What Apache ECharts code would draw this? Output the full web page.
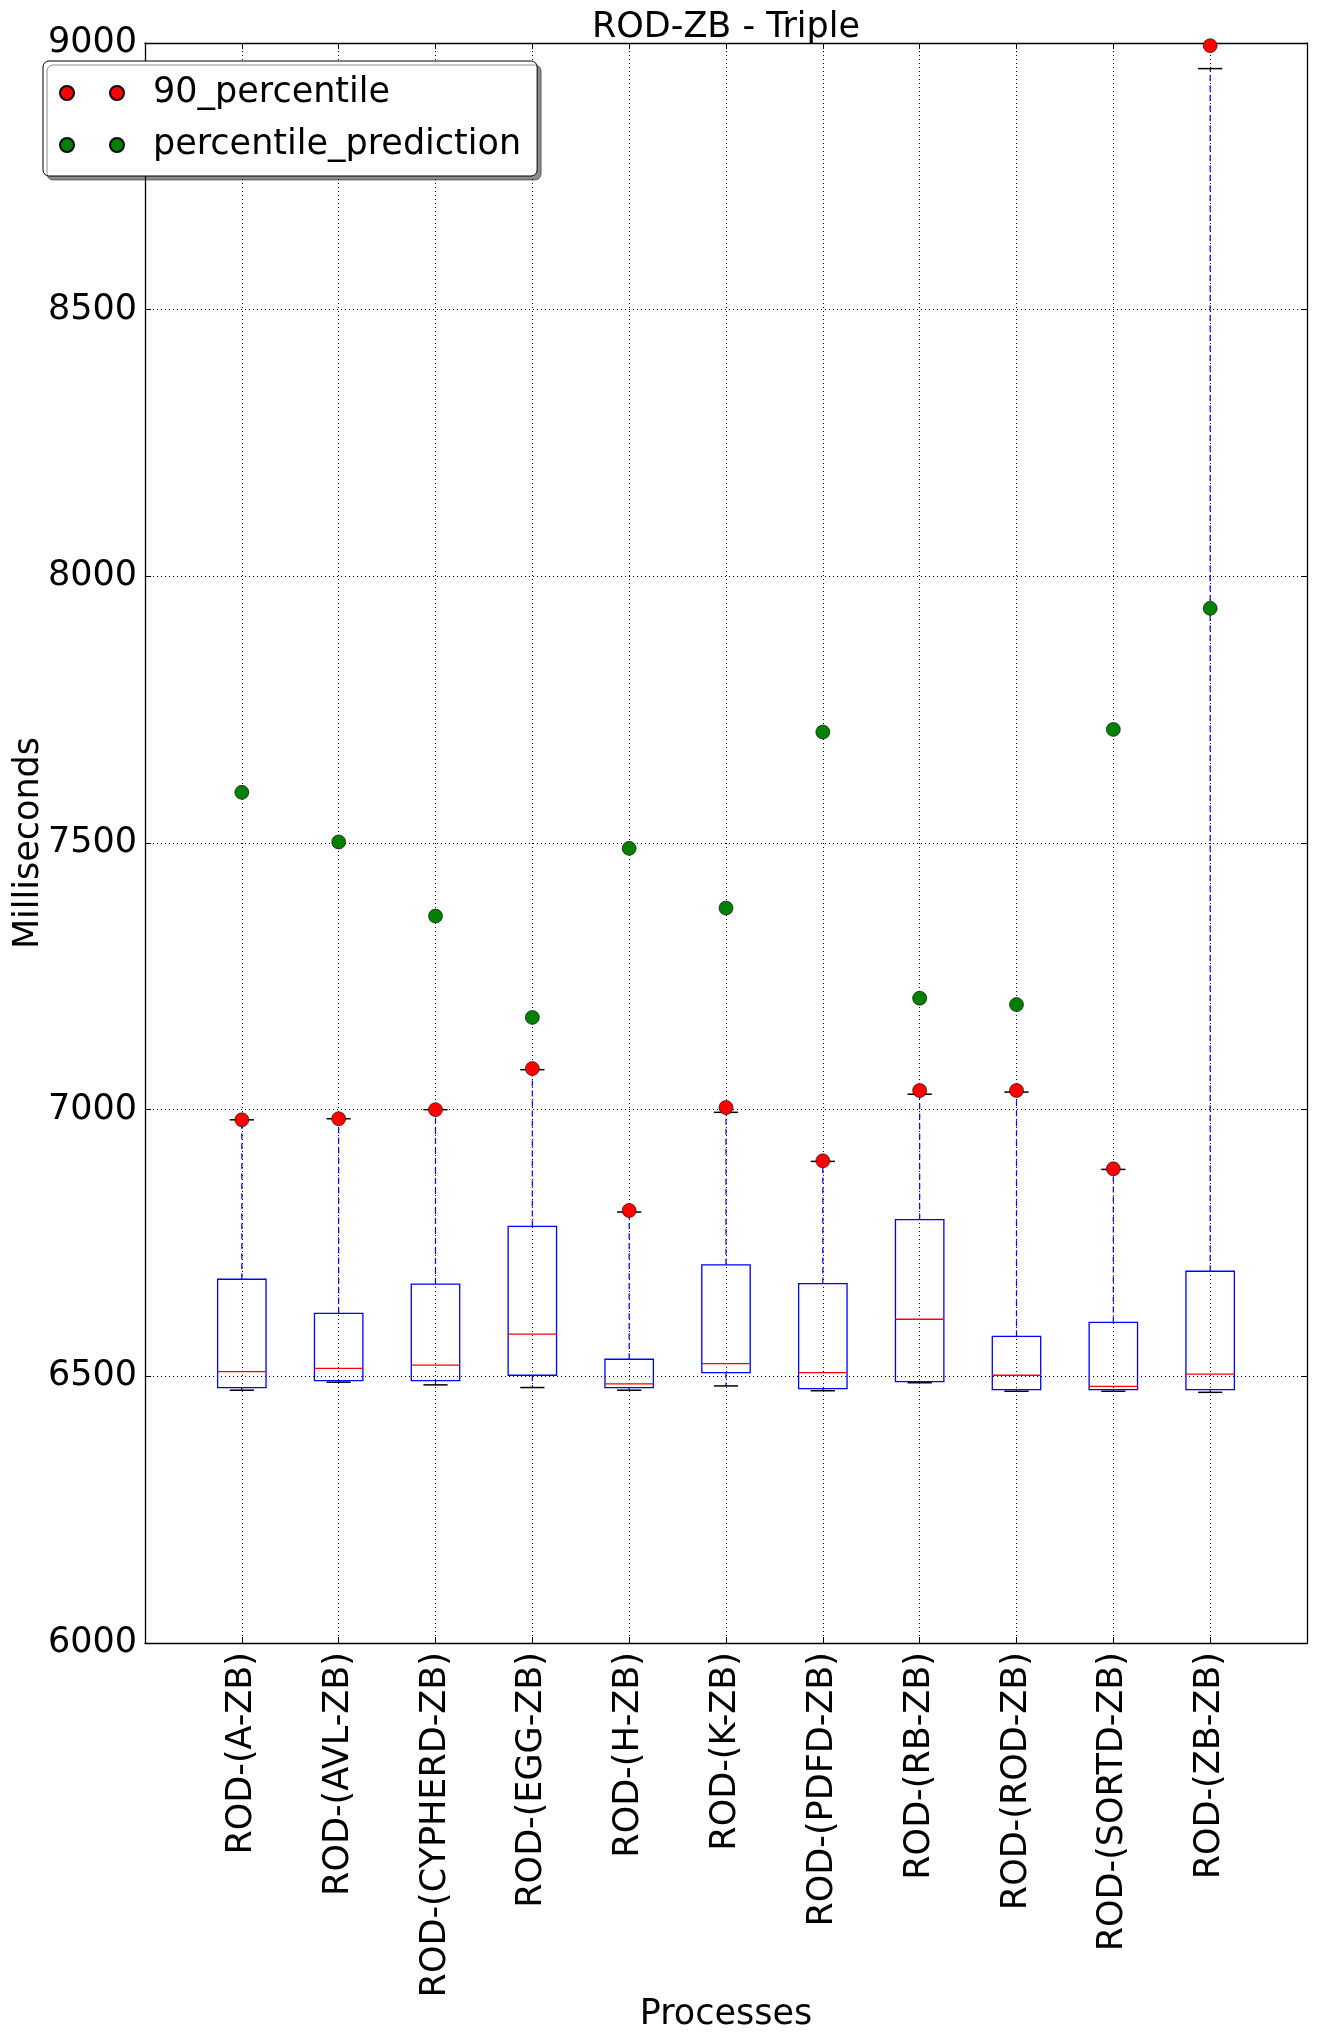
<!DOCTYPE html>
<html>
<head>
<meta charset="utf-8">
<script src="https://cdn.jsdelivr.net/npm/echarts@6/dist/echarts.min.js"></script>
<style>
html,body{margin:0;padding:0;background:#fff;}
#chart{width:1317px;height:2043px;}
</style>
</head>
<body>
<div id="chart"></div>
<script>
var categories = ['ROD-(A-ZB)','ROD-(AVL-ZB)','ROD-(CYPHERD-ZB)','ROD-(EGG-ZB)','ROD-(H-ZB)','ROD-(K-ZB)','ROD-(PDFD-ZB)','ROD-(RB-ZB)','ROD-(ROD-ZB)','ROD-(SORTD-ZB)','ROD-(ZB-ZB)'];
var whiskerLow  = [6474, 6489, 6484, 6479, 6474, 6482, 6473, 6488, 6472, 6472, 6470];
var q1          = [6479, 6492, 6492, 6502, 6479, 6507, 6477, 6490, 6475, 6475, 6475];
var median      = [6509, 6515, 6521, 6579, 6486, 6524, 6507, 6607, 6502, 6481, 6504];
var q3          = [6682, 6618, 6673, 6781, 6532, 6709, 6674, 6794, 6575, 6601, 6697];
var whiskerHigh = [6981, 6983, 7000, 7075, 6808, 6995, 6903, 7029, 7033, 6888, 8952];
var p90         = [6981, 6983, 7000, 7077, 6811, 7004, 6904, 7036, 7036, 6889, 8995];
var prediction  = [7595, 7502, 7363, 7173, 7490, 7378, 7708, 7209, 7197, 7713, 7940];
var yTicks = [6000, 6500, 7000, 7500, 8000, 8500, 9000];

var axisCats = [''].concat(categories).concat(['']);
var FONT = 'DejaVu Sans';
var FS = 35;

var boxData = categories.map(function (c, i) {
  return [i + 1, whiskerLow[i], q1[i], median[i], q3[i], whiskerHigh[i]];
});
var p90Data = categories.map(function (c, i) { return [i + 1, p90[i]]; });
var predData = categories.map(function (c, i) { return [i + 1, prediction[i]]; });

function renderBox(params, api) {
  var x = api.value(0);
  var lo = api.coord([x, api.value(1)]);
  var b1 = api.coord([x, api.value(2)]);
  var md = api.coord([x, api.value(3)]);
  var b3 = api.coord([x, api.value(4)]);
  var hi = api.coord([x, api.value(5)]);
  var band = api.size([1, 0])[0];
  var hw = band * 0.25;
  var cw = band * 0.125;
  var cx = lo[0];
  var blue = '#0000ff';
  return {
    type: 'group',
    children: [
      {type: 'line', shape: {x1: cx, y1: b3[1], x2: cx, y2: hi[1]}, style: {stroke: blue, lineWidth: 1.2, lineDash: [6, 4]}},
      {type: 'line', shape: {x1: cx, y1: b1[1], x2: cx, y2: lo[1]}, style: {stroke: blue, lineWidth: 1.2, lineDash: [6, 4]}},
      {type: 'line', shape: {x1: cx - cw, y1: hi[1], x2: cx + cw, y2: hi[1]}, style: {stroke: '#000', lineWidth: 1.5}},
      {type: 'line', shape: {x1: cx - cw, y1: lo[1], x2: cx + cw, y2: lo[1]}, style: {stroke: '#000', lineWidth: 1.5}},
      {type: 'rect', shape: {x: cx - hw, y: b3[1], width: hw * 2, height: b1[1] - b3[1]}, style: {stroke: blue, fill: null, lineWidth: 1.3}},
      {type: 'line', shape: {x1: cx - hw, y1: md[1], x2: cx + hw, y2: md[1]}, style: {stroke: '#ff0000', lineWidth: 1.3}}
    ]
  };
}

var chart = echarts.init(document.getElementById('chart'), null, {renderer: 'canvas'});
var twoDots = 'path://M0,7a7,7 0 1,0 14,0a7,7 0 1,0 -14,0ZM50,7a7,7 0 1,0 14,0a7,7 0 1,0 -14,0Z';
var gridStyle = {color: '#000', width: 1, type: [1, 3]};

chart.setOption({
  animation: false,
  backgroundColor: '#fff',
  textStyle: {fontFamily: FONT},
  title: {
    text: 'ROD-ZB - Triple',
    left: 726, top: 10, textAlign: 'center', padding: 0,
    textStyle: {fontFamily: FONT, fontSize: FS, fontWeight: 'normal', color: '#000'}
  },
  legend: {
    orient: 'vertical',
    left: 43, top: 61,
    padding: [12, 16, 11, 16],
    itemWidth: 64, itemHeight: 14, itemGap: 12,
    backgroundColor: '#fff',
    borderColor: '#000', borderWidth: 1, borderRadius: 6,
    shadowColor: 'rgba(0,0,0,0.45)', shadowOffsetX: 4, shadowOffsetY: 4, shadowBlur: 0,
    textStyle: {fontFamily: FONT, fontSize: FS, color: '#000', lineHeight: 40, padding: [0, 0, 0, 24]},
    data: [
      {name: '90_percentile', icon: twoDots},
      {name: 'percentile_prediction', icon: twoDots}
    ],
    z: 20
  },
  grid: {left: 145, right: 10, top: 43, bottom: 400, containLabel: false, outerBoundsMode: 'none'},
  xAxis: [{
    type: 'category', data: axisCats, boundaryGap: false,
    name: 'Processes', nameLocation: 'middle', nameGap: 354, nameMoveOverlap: false,
    nameTextStyle: {fontFamily: FONT, fontSize: FS, color: '#000'},
    axisLine: {lineStyle: {color: '#000', width: 1.3}},
    axisTick: {inside: true, length: 6, interval: 0, lineStyle: {color: '#000'}},
    axisLabel: {interval: 0, rotate: 90, margin: 9, fontFamily: FONT, fontSize: FS, color: '#000'},
    splitLine: {show: true, interval: 0, lineStyle: gridStyle}
  }, {
    type: 'category', data: axisCats, boundaryGap: false, position: 'top',
    axisLine: {lineStyle: {color: '#000', width: 1.3}},
    axisTick: {inside: true, length: 6, interval: 0, lineStyle: {color: '#000'}},
    axisLabel: {show: false}, splitLine: {show: false}
  }],
  yAxis: [{
    type: 'value', min: yTicks[0], max: yTicks[yTicks.length - 1], interval: 500,
    name: 'Milliseconds', nameLocation: 'middle', nameGap: 99, nameMoveOverlap: false,
    nameTextStyle: {fontFamily: FONT, fontSize: FS, color: '#000'},
    axisLine: {show: true, lineStyle: {color: '#000', width: 1.3}},
    axisTick: {show: true, inside: true, length: 6, lineStyle: {color: '#000'}},
    axisLabel: {margin: 8, fontFamily: FONT, fontSize: FS, color: '#000', formatter: function (v) { return String(v); }},
    splitLine: {show: true, lineStyle: gridStyle}
  }, {
    type: 'value', min: yTicks[0], max: yTicks[yTicks.length - 1], interval: 500, position: 'right',
    axisLine: {show: true, lineStyle: {color: '#000', width: 1.3}},
    axisTick: {show: true, inside: true, length: 6, lineStyle: {color: '#000'}},
    axisLabel: {show: false}, splitLine: {show: false}
  }],
  series: [{
    type: 'custom', name: 'boxes', renderItem: renderBox, data: boxData,
    encode: {x: 0, y: [1, 2, 3, 4, 5]}, z: 3, silent: true
  }, {
    type: 'scatter', name: '90_percentile', data: p90Data, symbol: 'circle', symbolSize: 14,
    itemStyle: {color: '#ff0000', borderColor: '#000', borderWidth: 0.6, opacity: 1},
    clip: true, z: 5
  }, {
    type: 'scatter', name: 'percentile_prediction', data: predData, symbol: 'circle', symbolSize: 14,
    itemStyle: {color: '#008000', borderColor: '#000', borderWidth: 0.6, opacity: 1},
    clip: true, z: 5
  }]
});
</script>
</body>
</html>
